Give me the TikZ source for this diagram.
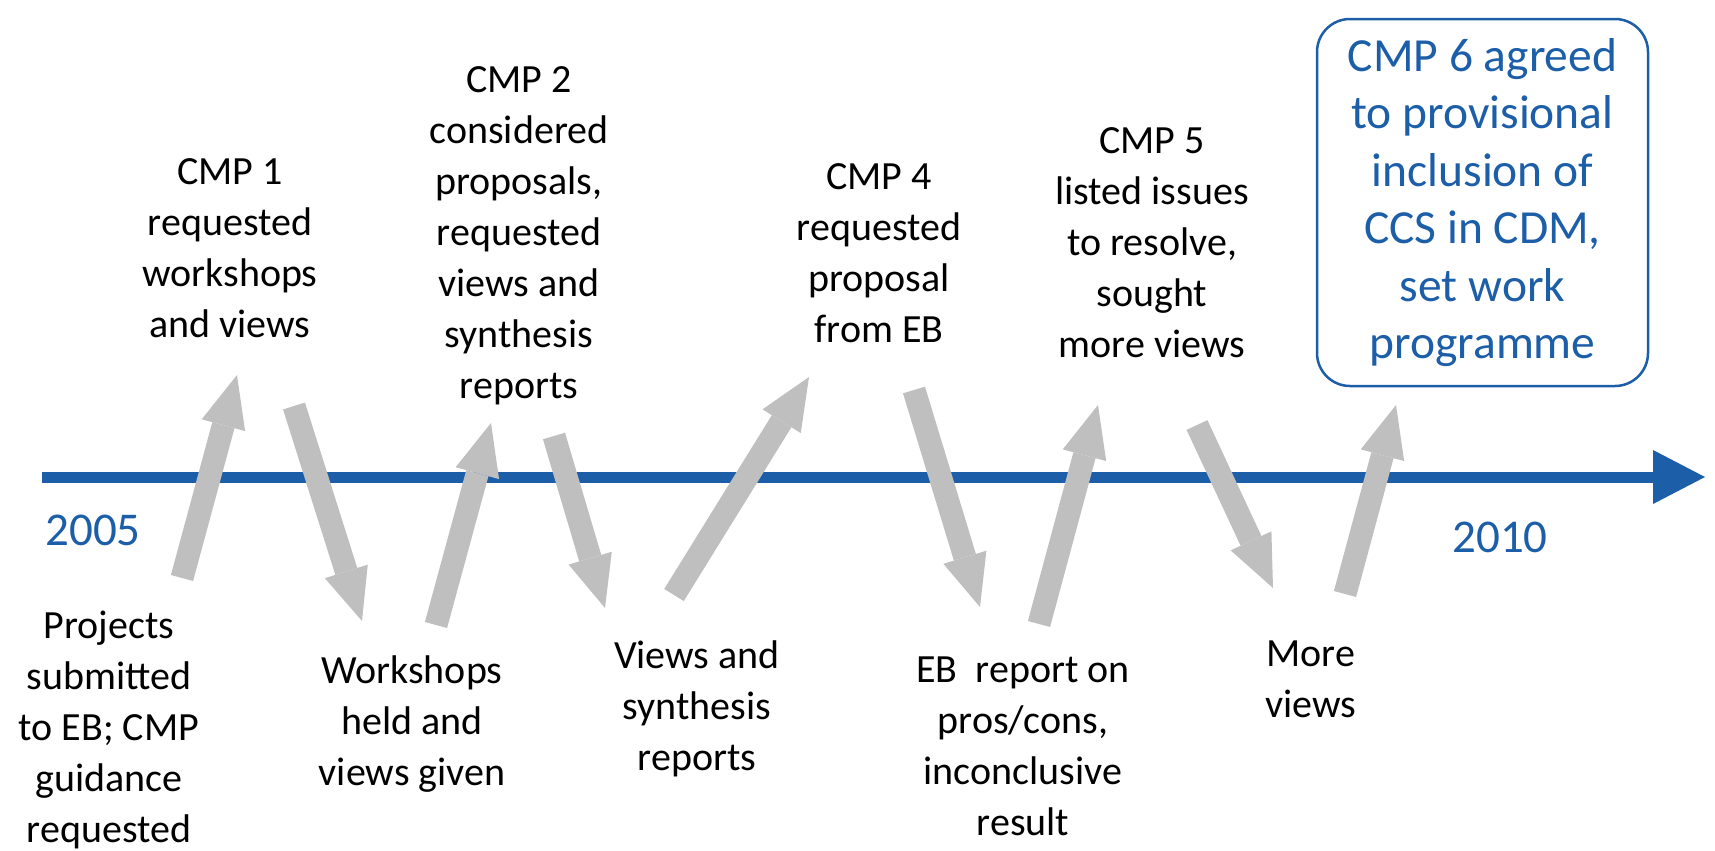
\documentclass[tikz,border=0pt]{standalone}
\usepackage{fontspec}
\setmainfont{Carlito}
\usetikzlibrary{arrows.meta}
\definecolor{tlblue}{RGB}{28,94,168}
\definecolor{agray}{RGB}{191,191,191}
\begin{document}
\begin{tikzpicture}[x=0.5pt,y=-0.5pt,
  lbl/.style={align=center, font=\fontsize{20}{25.5}\selectfont, inner sep=0pt, anchor=base},
  yr/.style={font=\fontsize{23.5}{28.7}\selectfont, text=tlblue, inner sep=0pt, anchor=base},
  cmpbox/.style={draw=tlblue, line width=1.25pt, rounded corners=16.5pt,
    minimum width=165.5pt, minimum height=183.5pt, align=center, text=tlblue,
    font=\fontsize{23.75}{28.7}\selectfont, inner sep=0pt},
  timeline/.style={draw=tlblue, line width=5.5pt, -{Triangle[width=27pt,length=26pt,line width=0pt]}},
  blockarrow/.style={draw=agray, line width=11.5pt, -{Triangle[width=22.5pt,length=26pt,line width=0pt]}}]
\useasboundingbox (0,0) rectangle (1715,851);

% timeline
\coordinate (tls) at (42,477);
\coordinate (tle) at (1705,477);
\draw[timeline] (tls) -- (tle);

% year labels
\node[yr] (y2005) at (93,545) {2005};
\node[yr] (y2010) at (1500,552) {2010};

% arrow end points
\coordinate (a1s) at (182,578);  \coordinate (a1e) at (237,375);
\coordinate (a2s) at (294,406);  \coordinate (a2e) at (362,621);
\coordinate (a3s) at (436,625);  \coordinate (a3e) at (491,423);
\coordinate (a4s) at (554,436);  \coordinate (a4e) at (605,608);
\coordinate (a5s) at (674,595);  \coordinate (a5e) at (809,377);
\coordinate (a6s) at (914,390);  \coordinate (a6e) at (980,607);
\coordinate (a7s) at (1039,624); \coordinate (a7e) at (1098,405);
\coordinate (a8s) at (1197,425); \coordinate (a8e) at (1273,588);
\coordinate (a9s) at (1345,594); \coordinate (a9e) at (1396,405);

\draw[blockarrow] (a1s) -- (a1e);
\draw[blockarrow] (a2s) -- (a2e);
\draw[blockarrow] (a3s) -- (a3e);
\draw[blockarrow] (a4s) -- (a4e);
\draw[blockarrow] (a5s) -- (a5e);
\draw[blockarrow] (a6s) -- (a6e);
\draw[blockarrow] (a7s) -- (a7e);
\draw[blockarrow] (a8s) -- (a8e);
\draw[blockarrow] (a9s) -- (a9e);

% upper labels (anchor = baseline of last line)
\node[lbl] (cmp1) at (230,337) {CMP 1\\requested\\workshops\\and views};
\node[lbl] (cmp2) at (519,398) {CMP 2\\considered\\proposals,\\requested\\views and\\synthesis\\reports};
\node[lbl] (cmp4) at (879,342) {CMP 4\\requested\\proposal\\from EB};
\node[lbl] (cmp5) at (1152,357) {CMP 5\\listed issues\\to resolve,\\sought\\more views};
\node[cmpbox] (cmp6) at (1482.5,202.5) {CMP 6 agreed\\to provisional\\inclusion of\\CCS in CDM,\\set work\\programme};

% lower labels
\node[lbl] (proj) at (109,842) {Projects\\submitted\\to EB; CMP\\guidance\\requested};
\node[lbl] (work) at (412,785) {Workshops\\held and\\views given};
\node[lbl] (views) at (697,770) {Views and\\synthesis\\reports};
\node[lbl] (ebrep) at (1023,835) {EB\ \ report on\\pros/cons,\\inconclusive\\result};
\node[lbl] (more) at (1311,717) {More\\views};
\end{tikzpicture}
\end{document}
